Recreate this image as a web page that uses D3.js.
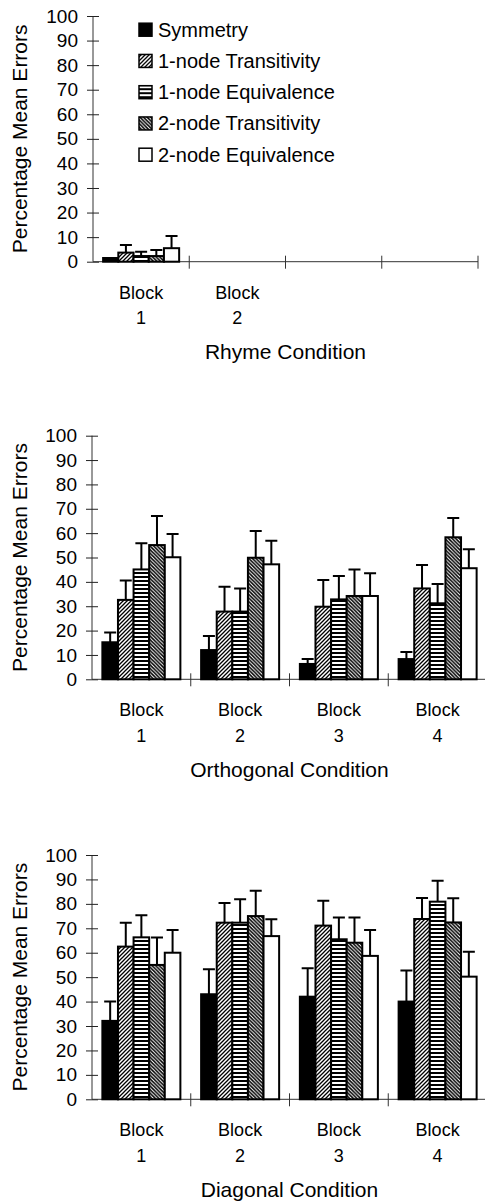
<!DOCTYPE html>
<html>
<head>
<meta charset="utf-8">
<script src="https://cdn.jsdelivr.net/npm/d3@7"></script>
<style>
  body { margin: 0; background: #fff; }
  svg { display: block; }
  text { font-family: "Liberation Sans", Arial, Helvetica, sans-serif; fill: #000; }
</style>
</head>
<body>
<div id="chart"></div>
<script>
// ---- data ----
const series = ['Symmetry', '1-node Transitivity', '1-node Equivalence', '2-node Transitivity', '2-node Equivalence'];
const blocks = ['Block 1', 'Block 2', 'Block 3', 'Block 4'];
const yTicks = [0, 10, 20, 30, 40, 50, 60, 70, 80, 90, 100];

// rhyme condition: only blocks 1 and 2 were run
const rhymeBlocks = ['Block 1', 'Block 2'];
const rhymeMeans = [
  [1.5, 3.7, 2.3, 2.3, 5.5],
  [0, 0, 0, 0, 0]
];
const rhymeErr = [
  [0, 3.1, 1.7, 2.5, 5.0],
  [0, 0, 0, 0, 0]
];

const orthoMeans = [
  [15.2, 32.6, 45.1, 55.1, 50.1],
  [12.0, 27.8, 27.8, 49.9, 47.2],
  [6.3, 29.8, 32.8, 34.2, 34.2],
  [8.3, 37.3, 31.2, 58.3, 45.6]
];
const orthoErr = [
  [4.0, 8.0, 10.7, 11.9, 9.5],
  [5.8, 10.2, 9.5, 11.0, 9.7],
  [2.0, 11.0, 9.6, 10.9, 9.3],
  [2.9, 9.6, 7.9, 7.9, 7.8]
];

const diagMeans = [
  [32.1, 62.5, 66.3, 55.0, 60.0],
  [43.0, 72.3, 72.3, 75.0, 66.8],
  [42.0, 71.1, 65.5, 64.1, 58.7],
  [40.0, 73.8, 80.9, 72.4, 50.2]
];
const diagErr = [
  [7.9, 9.8, 9.0, 11.2, 9.3],
  [10.2, 8.1, 9.6, 10.4, 6.9],
  [11.6, 10.2, 8.9, 10.3, 10.6],
  [12.7, 8.6, 8.6, 9.9, 10.2]
];

// ---- layout ----
const width = 485, height = 1203;

const panels = [
  { title: 'Rhyme Condition', labels: rhymeBlocks, means: rhymeMeans, err: rhymeErr,
    x: [93, 478], y: [261.7, 16], legend: true },
  { title: 'Orthogonal Condition', labels: blocks, means: orthoMeans, err: orthoErr,
    x: [92, 487], y: [679.3, 435.7] },
  { title: 'Diagonal Condition', labels: blocks, means: diagMeans, err: diagErr,
    x: [92, 487], y: [1099.3, 855] }
];

const fills = ['#000', 'url(#diagUp)', 'url(#horiz)', 'url(#diagDown)', '#fff'];

const svg = d3.select('#chart').append('svg')
  .attr('width', width)
  .attr('height', height)
  .attr('viewBox', `0 0 ${width} ${height}`);

// hatch patterns
const defs = svg.append('defs');

const up = defs.append('pattern').attr('id', 'diagUp')
  .attr('patternUnits', 'userSpaceOnUse').attr('width', 4).attr('height', 4);
up.append('rect').attr('width', 4).attr('height', 4).attr('fill', '#fff');
up.append('path').attr('d', 'M-1,1 l2,-2 M0,4 l4,-4 M3,5 l2,-2')
  .attr('stroke', '#000').attr('stroke-width', 1.3);

const down = defs.append('pattern').attr('id', 'diagDown')
  .attr('patternUnits', 'userSpaceOnUse').attr('width', 3.6).attr('height', 3.6);
down.append('rect').attr('width', 3.6).attr('height', 3.6).attr('fill', '#fff');
down.append('path').attr('d', 'M-0.9,2.7 l1.8,1.8 M0,0 l3.6,3.6 M2.7,-0.9 l1.8,1.8')
  .attr('stroke', '#000').attr('stroke-width', 1.5);

const hz = defs.append('pattern').attr('id', 'horiz')
  .attr('patternUnits', 'userSpaceOnUse').attr('width', 4).attr('height', 4);
hz.append('rect').attr('width', 4).attr('height', 4).attr('fill', '#fff');
hz.append('rect').attr('y', 0).attr('width', 4).attr('height', 2).attr('fill', '#000');

panels.forEach(p => {
  const g = svg.append('g');

  const x = d3.scaleBand()
    .domain(blocks)
    .range(p.x)
    .paddingInner(0.21)
    .paddingOuter(0.105);

  const xEdge = d3.scaleLinear().domain([0, blocks.length]).range(p.x);

  const xs = d3.scaleBand()
    .domain(series)
    .range([0, x.bandwidth()]);

  const y = d3.scaleLinear().domain([0, 100]).range(p.y);

  // y axis
  const yAxisG = g.append('g')
    .attr('transform', `translate(${p.x[0]},0)`)
    .call(d3.axisLeft(y).tickValues(yTicks).tickSize(6).tickPadding(9));
  yAxisG.selectAll('.tick line').attr('x1', -6).attr('x2', 6).attr('stroke', '#222');
  yAxisG.select('.domain').attr('d', `M0,${p.y[0]}V${p.y[1]}`).attr('stroke', '#333');
  yAxisG.selectAll('.tick text')
    .style('font-family', '"Liberation Sans", Arial, sans-serif')
    .style('font-size', '19px')
    .attr('fill', '#000');

  // x axis line and block separators
  g.append('line')
    .attr('x1', p.x[0]).attr('x2', p.x[1])
    .attr('y1', p.y[0]).attr('y2', p.y[0])
    .attr('stroke', '#333');
  g.selectAll('.sep')
    .data(d3.range(1, blocks.length + 1))
    .join('line')
    .attr('class', 'sep')
    .attr('x1', d => xEdge(d)).attr('x2', d => xEdge(d))
    .attr('y1', p.y[0] - 6).attr('y2', p.y[0] + 7)
    .attr('stroke', '#333');

  // block labels
  const lab = g.selectAll('.blk')
    .data(p.labels)
    .join('text')
    .attr('class', 'blk')
    .attr('text-anchor', 'middle')
    .style('font-size', '18px');
  lab.append('tspan')
    .attr('x', d => x(d) + x.bandwidth() / 2)
    .attr('y', p.y[0] + 37)
    .text(d => d.split(' ')[0]);
  lab.append('tspan')
    .attr('x', d => x(d) + x.bandwidth() / 2)
    .attr('y', p.y[0] + 62.5)
    .text(d => d.split(' ')[1]);

  // axis titles
  g.append('text')
    .attr('text-anchor', 'middle')
    .attr('x', (p.x[0] + p.x[1]) / 2)
    .attr('y', p.y[0] + 97.5)
    .style('font-size', '21px')
    .text(p.title);

  g.append('text')
    .attr('text-anchor', 'middle')
    .attr('transform', `translate(27,${(p.y[0] + p.y[1]) / 2}) rotate(-90)`)
    .style('font-size', '21px')
    .text('Percentage Mean Errors');

  // bars
  const rows = p.means.map((m, i) => m.map((v, j) => ({
    block: p.labels[i], s: series[j], j, v, e: p.err[i][j]
  }))).flat();

  g.selectAll('.err')
    .data(rows.filter(d => d.e > 0))
    .join('path')
    .attr('class', 'err')
    .attr('d', d => {
      const cx = x(d.block) + xs(d.s) + xs.bandwidth() / 2;
      const top = y(d.v + d.e);
      return `M${cx},${y(d.v)}V${top}M${cx - 6},${top}H${cx + 6}`;
    })
    .attr('fill', 'none')
    .attr('stroke', '#000')
    .attr('stroke-width', 2);

  g.selectAll('.bar')
    .data(rows)
    .join('rect')
    .attr('class', 'bar')
    .attr('x', d => x(d.block) + xs(d.s))
    .attr('y', d => y(d.v))
    .attr('width', xs.bandwidth())
    .attr('height', d => y(0) - y(d.v))
    .attr('fill', d => fills[d.j])
    .attr('stroke', '#000')
    .attr('stroke-width', d => d.v === 0 ? 1 : 2);

  // legend
  if (p.legend) {
    const lg = g.selectAll('.leg')
      .data(series)
      .join('g')
      .attr('class', 'leg')
      .attr('transform', (d, i) => `translate(139,${29.7 + i * 31.25})`);
    lg.append('rect')
      .attr('x', 0).attr('y', -6.5)
      .attr('width', 13).attr('height', 13)
      .attr('fill', (d, i) => fills[i])
      .attr('stroke', '#000')
      .attr('stroke-width', 1.5);
    lg.append('text')
      .attr('x', 19)
      .attr('y', 7)
      .style('font-size', '20px')
      .text(d => d);
  }
});
</script>
</body>
</html>
